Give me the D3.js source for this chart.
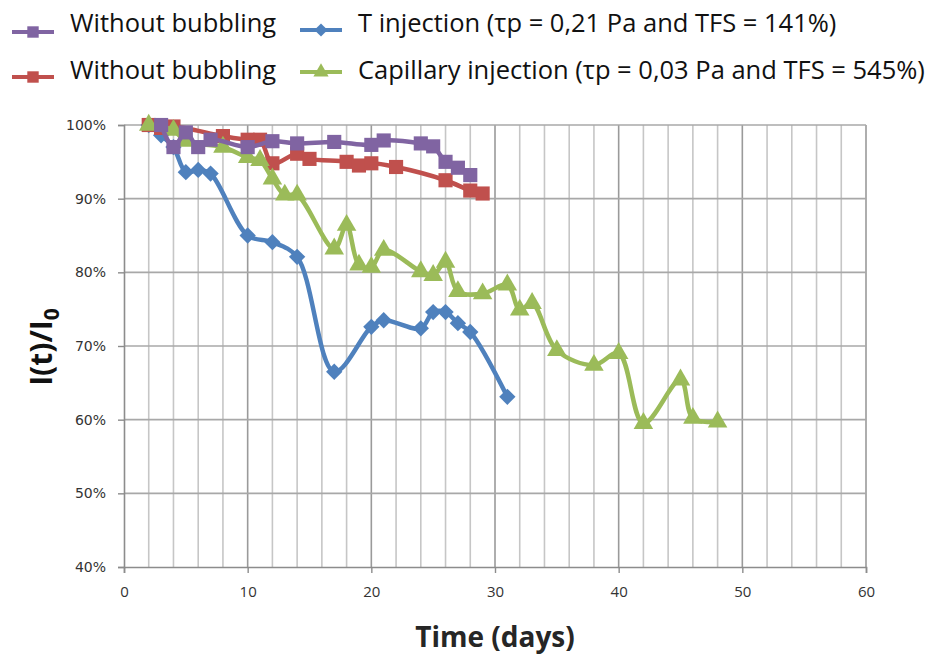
<!DOCTYPE html>
<html>
<head>
<meta charset="utf-8">
<script src="https://unpkg.com/d3@7/dist/d3.min.js"></script>
<style>
  body { margin: 0; background: #fff; }
  svg { display: block; }
</style>
</head>
<body>
<script>
// data (days, I(t)/I0 in %)
const purpleDays = [3, 4, 5, 6, 7, 10, 12, 14, 17, 20, 21, 24, 25, 26, 27, 28];
const purpleVals = [100, 97, 99, 97, 98, 97, 97.8, 97.5, 97.7, 97.3, 97.9, 97.5, 97.1, 95, 94.2, 93.2];

const redDays = [2, 3, 4, 8, 10, 11, 12, 14, 15, 18, 19, 20, 22, 26, 28, 29];
const redVals = [100, 99.6, 99.8, 98.5, 98, 98, 94.8, 96.1, 95.4, 95, 94.5, 94.8, 94.3, 92.5, 91.1, 90.7];

const blueDays = [2, 3, 4, 5, 6, 7, 10, 12, 14, 17, 20, 21, 24, 25, 26, 27, 28, 31];
const blueVals = [100, 98.6, 97, 93.6, 93.9, 93.4, 85, 84.1, 82.1, 66.5, 72.6, 73.5, 72.4, 74.6, 74.6, 73.1, 71.9, 63.1];

const greenDays = [2, 4, 5, 8, 10, 11, 12, 13, 14, 17, 18, 19, 20, 21, 24, 25, 26, 27, 29, 31, 32, 33, 35, 38, 40, 42, 45, 46, 48];
const greenVals = [100, 99.3, 97.8, 97, 95.6, 95.2, 92.7, 90.5, 90.5, 83.2, 86.4, 81, 80.7, 83, 80.1, 79.6, 81.4, 77.4, 77.1, 78.3, 74.9, 75.8, 69.4, 67.4, 69, 59.5, 65.4, 60.2, 59.7];

const xTicks = [0, 10, 20, 30, 40, 50, 60];
const yTicks = [40, 50, 60, 70, 80, 90, 100];

const legendLabels = [
  "Without bubbling",
  "Without bubbling",
  "T injection (τp = 0,21 Pa and TFS = 141%)",
  "Capillary injection (τp = 0,03 Pa and TFS = 545%)"
];

// layout
const width = 933;
const height = 655;
const plot = { left: 124, right: 866, top: 125, bottom: 567 };

const colors = { purple: "#8064a2", red: "#c0504d", blue: "#4f81bd", green: "#9bbb59" };

const svg = d3.select("body").append("svg")
  .attr("width", width)
  .attr("height", height);

const x = d3.scaleLinear().domain([0, 60]).range([plot.left, plot.right]);
const y = d3.scaleLinear().domain([40, 100]).range([plot.bottom, plot.top]);

// grid
const grid = svg.append("g");
grid.selectAll(".vgrid")
  .data(d3.range(2, 61, 2))
  .enter()
  .append("line")
  .attr("x1", (d) => x(d))
  .attr("x2", (d) => x(d))
  .attr("y1", plot.top)
  .attr("y2", plot.bottom)
  .style("stroke", (d) => (d % 10 === 0 ? "#9a9a9a" : "#c6c6c6"))
  .style("stroke-width", 1.6);

grid.selectAll(".hgrid")
  .data(yTicks.slice(1))
  .enter()
  .append("line")
  .attr("x1", plot.left)
  .attr("x2", plot.right)
  .attr("y1", (d) => y(d))
  .attr("y2", (d) => y(d))
  .style("stroke", "#a8a8a8")
  .style("stroke-width", 1.6);

// axes
const xAxis = svg.append("g")
  .attr("transform", `translate(0,${plot.bottom})`)
  .call(d3.axisBottom(x).tickValues(xTicks).tickSize(6).tickPadding(13));

const yAxis = svg.append("g")
  .attr("transform", `translate(${plot.left},0)`)
  .call(d3.axisLeft(y).tickValues(yTicks).tickSize(6).tickPadding(12)
    .tickFormat((d) => d + "%"));

[xAxis, yAxis].forEach((a) => {
  a.select(".domain").style("stroke", "#8c8c8c").style("stroke-width", 1.6);
  a.selectAll(".tick line").style("stroke", "#8c8c8c").style("stroke-width", 1.4);
});
xAxis.selectAll("text")
  .style("font-family", "Open Sans, sans-serif")
  .style("font-size", "15px")
  .style("fill", "#333");
yAxis.selectAll("text")
  .style("font-family", "DejaVu Sans, sans-serif")
  .style("font-size", "14px")
  .style("fill", "#333");

// series
const line = d3.line()
  .x((d) => x(d[0]))
  .y((d) => y(d[1]))
  .curve(d3.curveCatmullRom.alpha(0.5));

const series = [
  { days: blueDays, vals: blueVals, color: colors.blue, symbol: d3.symbolDiamond2, size: 170 },
  { days: redDays, vals: redVals, color: colors.red, symbol: d3.symbolSquare, size: 200 },
  { days: greenDays, vals: greenVals, color: colors.green, symbol: d3.symbolTriangle, size: 165 },
  { days: purpleDays, vals: purpleVals, color: colors.purple, symbol: d3.symbolSquare, size: 200 }
];

series.forEach((s) => {
  const pts = s.days.map((d, i) => [d, s.vals[i]]);
  svg.append("path")
    .datum(pts)
    .attr("d", line)
    .style("fill", "none")
    .style("stroke", s.color)
    .style("stroke-width", 4.5)
    .style("stroke-linejoin", "round");
  svg.selectAll(null)
    .data(pts)
    .enter()
    .append("path")
    .attr("d", d3.symbol().type(s.symbol).size(s.size))
    .attr("transform", (d) => `translate(${x(d[0])},${y(d[1])})`)
    .style("fill", s.color);
});

// legend
const legendItems = [
  { label: legendLabels[0], color: colors.purple, symbol: d3.symbolSquare, size: 130, lx: 12, ty: 22, my: 32 },
  { label: legendLabels[1], color: colors.red, symbol: d3.symbolSquare, size: 130, lx: 12, ty: 69, my: 77 },
  { label: legendLabels[2], color: colors.blue, symbol: d3.symbolDiamond2, size: 110, lx: 300, ty: 22, my: 30 },
  { label: legendLabels[3], color: colors.green, symbol: d3.symbolTriangle, size: 100, lx: 300, ty: 69, my: 72 }
];

const legend = svg.append("g");
legendItems.forEach((it) => {
  legend.append("line")
    .attr("x1", it.lx)
    .attr("x2", it.lx + 42)
    .attr("y1", it.my)
    .attr("y2", it.my)
    .style("stroke", it.color)
    .style("stroke-width", 4);
  legend.append("path")
    .attr("d", d3.symbol().type(it.symbol).size(it.size))
    .attr("transform", `translate(${it.lx + 21},${it.my})`)
    .style("fill", it.color);
  legend.append("text")
    .attr("x", it.lx + 58)
    .attr("y", it.ty)
    .attr("dominant-baseline", "central")
    .style("font-family", "Open Sans, sans-serif")
    .style("font-size", "25.5px")
    .style("fill", "#111")
    .text(it.label);
});

// axis titles
svg.append("text")
  .attr("x", (plot.left + plot.right) / 2)
  .attr("y", 647)
  .attr("text-anchor", "middle")
  .style("font-family", "Open Sans, sans-serif")
  .style("font-weight", "bold")
  .style("font-size", "28px")
  .style("fill", "#262626")
  .text("Time (days)");

const yTitle = svg.append("text")
  .attr("transform", "translate(52,347) rotate(-90)")
  .attr("text-anchor", "middle")
  .style("font-family", "Open Sans, sans-serif")
  .style("font-weight", "bold")
  .style("font-size", "30px")
  .style("fill", "#111");
yTitle.append("tspan").text("I(t)/I");
yTitle.append("tspan").attr("dy", 7).style("font-size", "21px").text("0");
</script>
</body>
</html>
